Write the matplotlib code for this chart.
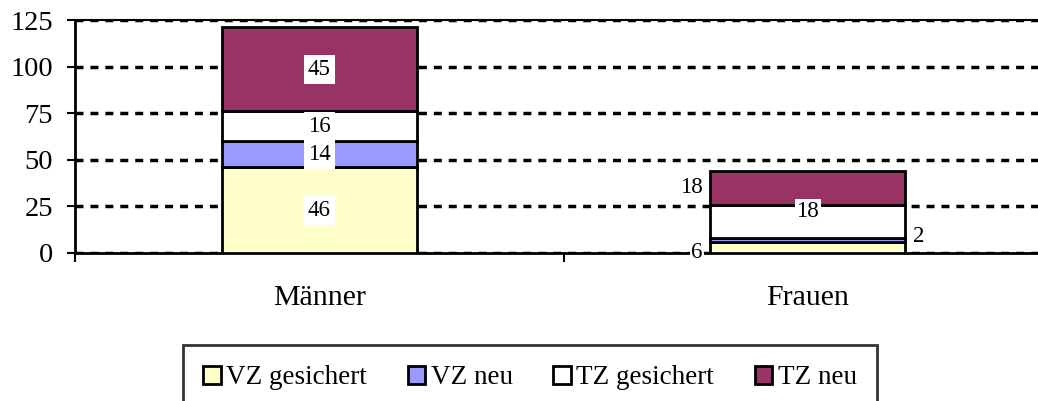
import matplotlib.pyplot as plt
import numpy as np

# daten
kategorien = ['Männer', 'Frauen']
vz_gesichert = [46, 6]
vz_neu = [14, 2]
tz_gesichert = [16, 18]
tz_neu = [45, 18]

reihen = ['VZ gesichert', 'VZ neu', 'TZ gesichert', 'TZ neu']
farben = ['#FFFFCC', '#9999FF', '#FFFFFF', '#993366']
yticks = [0, 25, 50, 75, 100, 125]

plt.rcParams['font.family'] = ['Liberation Serif', 'DejaVu Serif']

fig = plt.figure(figsize=(10.38, 4.01), dpi=100)
ax = fig.add_axes([75/1038, 148/401, 977/1038, 233/401])

x = np.arange(len(kategorien))
werte = [vz_gesichert, vz_neu, tz_gesichert, tz_neu]
unten = np.zeros(len(kategorien))
balken = []
for name, w, col in zip(reihen, werte, farben):
    b = ax.bar(x, w, 0.4, bottom=unten, color=col, edgecolor='black', linewidth=2, label=name, zorder=3)
    balken.append((b, np.array(w), unten.copy()))
    unten = unten + np.array(w)

# beschriftungen Männer (mitte, weisser hintergrund)
box = dict(facecolor='white', edgecolor='none', pad=3)
for b, w, u in balken:
    ax.text(x[0], u[0] + w[0] / 2, str(w[0]), ha='center', va='center', fontsize=16.5, bbox=box, zorder=5)

# beschriftungen Frauen (wie in excel verschoben)
pos = [(-0.215, 0, 'right'), (0.215, 9, 'left'), (0, 22.5, 'center'), (-0.215, 35, 'right')]
for (dx, yy, ha), (b, w, u) in zip(pos, balken):
    ax.text(x[1] + dx, yy, str(w[1]), ha=ha, va='center', fontsize=16.5,
            bbox=dict(facecolor='white', edgecolor='none', pad=1), zorder=5)

ax.set_xlim(-0.5, 1.5)
ax.set_ylim(0, 125)
ax.set_yticks(yticks)
ax.set_yticklabels([str(t) for t in yticks], fontsize=20.5)
ax.yaxis.grid(True, color='black', linestyle=(0, (2.3, 2.0)), linewidth=2.5, zorder=0)
ax.set_axisbelow(True)

ax.set_xticks([-0.5, 0.5, 1.5], minor=False)
ax.set_xticklabels([])
ax.set_xticks(x, minor=True)
ax.set_xticklabels(kategorien, minor=True, fontsize=21.5)
ax.tick_params(axis='x', which='minor', length=0, pad=23)
ax.tick_params(axis='x', which='major', length=6.5, width=1.5, direction='out')
ax.tick_params(axis='y', length=6, width=1.5, pad=10)

ax.spines['right'].set_visible(False)
ax.spines['top'].set_linewidth(1.5)
ax.spines['left'].set_linewidth(2)
ax.spines['bottom'].set_linewidth(2)

leg = fig.legend(loc='upper left', bbox_to_anchor=(183/1038, 1 - 345/401), ncol=4, fontsize=19.5,
                 frameon=True, fancybox=False, edgecolor='black', handlelength=0.65, handleheight=0.65,
                 handletextpad=0.2, columnspacing=1.5, borderpad=0.75, borderaxespad=0)
leg.get_frame().set_linewidth(2)
for h in leg.legend_handles:
    h.set_linewidth(2)

fig.savefig('out.png', dpi=100)
